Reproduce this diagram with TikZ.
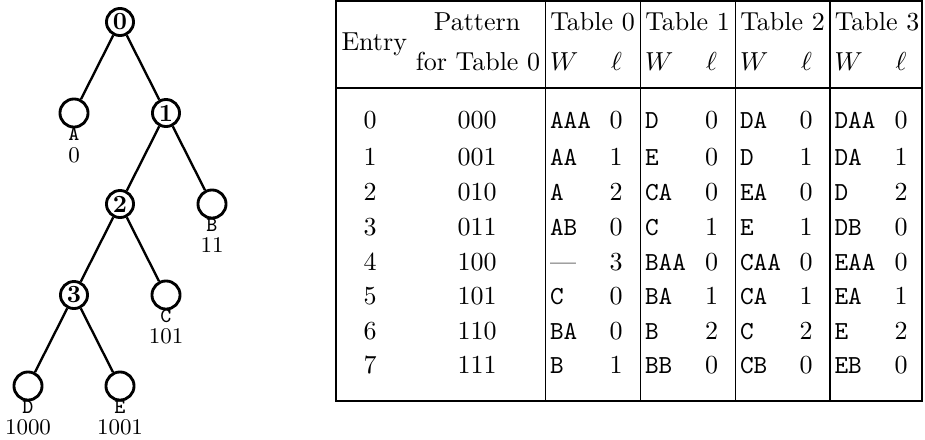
\documentclass[tikz,border=0pt]{standalone}
\begin{document}
\begin{tikzpicture}[x=0.3846pt,y=-0.3846pt,
  rule/.style={line width=0.5pt},
  edge/.style={line width=0.9pt},
  inner/.style={circle,draw,line width=1.1pt,minimum size=10.4pt,inner sep=0pt,font=\fontsize{9.5}{10}\selectfont\bfseries},
  leaf/.style={circle,draw,line width=1.1pt,minimum size=10.8pt,inner sep=0pt},
  letter/.style={inner sep=0pt,font=\fontsize{8}{9}\selectfont\ttfamily},
  code/.style={inner sep=0pt,font=\fontsize{8.6}{10}\selectfont},
  hd/.style={inner sep=0pt,anchor=base,font=\fontsize{10}{12}\selectfont},
  rm/.style={inner sep=0pt,anchor=base,font=\fontsize{10}{12}\selectfont},
  tt/.style={inner sep=0pt,anchor=base west,font=\fontsize{10}{12}\selectfont\ttfamily}]
\useasboundingbox (0,0) rectangle (925,439);

% ---------- tree ----------
\node[inner] (n0) at (120,22) {0};
\node[leaf]  (A)  at (74,113) {};
\node[inner] (n1) at (166,113) {1};
\node[inner] (n2) at (120,204) {2};
\node[leaf]  (B)  at (212,204) {};
\node[inner] (n3) at (74,295) {3};
\node[leaf]  (C)  at (166,295) {};
\node[leaf]  (D)  at (28,386) {};
\node[leaf]  (E)  at (120,386) {};
\draw[edge] (n0) -- (A);
\draw[edge] (n0) -- (n1);
\draw[edge] (n1) -- (n2);
\draw[edge] (n1) -- (B);
\draw[edge] (n2) -- (n3);
\draw[edge] (n2) -- (C);
\draw[edge] (n3) -- (D);
\draw[edge] (n3) -- (E);

\node[letter] (Al) at (74,134) {A};   \node[code] (Ac) at (74,155) {0};
\node[letter] (Bl) at (212,225) {B};  \node[code] (Bc) at (212,245) {11};
\node[letter] (Cl) at (166,316) {C};  \node[code] (Cc) at (166,336) {101};
\node[letter] (Dl) at (28,407) {D};   \node[code] (Dc) at (28,427) {1000};
\node[letter] (El) at (120,407) {E};  \node[code] (Ec) at (120,427) {1001};

% ---------- table rules ----------
\draw[rule] (336,1) rectangle (922,401);
\draw[rule] (336,88) -- (922,88);
\foreach \s in {545.5,640.5,735.5,830} \draw[rule] (\s,1) -- (\s,401);

% ---------- header ----------
\node[hd,anchor=base west] (entry) at (341,50) {Entry};
\node[hd] (pat1) at (477,30) {Pattern};
\node[hd] (pat2) at (478,70) {for Table 0};
\foreach \k/\s in {0/545.5,1/640.5,2/735.5,3/830} {
  \node[hd] (t\k) at (\s+47,30) {Table \k};
  \node[hd,anchor=base west] (W\k) at (\s+4,70) {$W$};
  \node[hd] (L\k) at (\s+71,70) {$\ell$};
}

% ---------- body ----------
\foreach \r/\yb/\pat/\wA/\lA/\wB/\lB/\wC/\lC/\wD/\lD in {
  0/128/000/AAA/0/D/0/DA/0/DAA/0,
  1/165/001/AA/1/E/0/D/1/DA/1,
  2/200/010/A/2/CA/0/EA/0/D/2,
  3/235/011/AB/0/C/1/E/1/DB/0,
  4/270/100/{\rmfamily---}/3/BAA/0/CAA/0/EAA/0,
  5/304/101/C/0/BA/1/CA/1/EA/1,
  6/339/110/BA/0/B/2/C/2/E/2,
  7/373/111/B/1/BB/0/CB/0/EB/0} {
  \node[rm] (e\r) at (370,\yb) {\r};
  \node[rm] (p\r) at (477,\yb) {\pat};
  \node[tt] (w0-\r) at (549.5,\yb) {\wA};
  \node[rm] (l0-\r) at (616,\yb) {\lA};
  \node[tt] (w1-\r) at (644.5,\yb) {\wB};
  \node[rm] (l1-\r) at (711.5,\yb) {\lB};
  \node[tt] (w2-\r) at (739.5,\yb) {\wC};
  \node[rm] (l2-\r) at (806,\yb) {\lC};
  \node[tt] (w3-\r) at (834,\yb) {\wD};
  \node[rm] (l3-\r) at (901,\yb) {\lD};
}
\end{tikzpicture}
\end{document}
